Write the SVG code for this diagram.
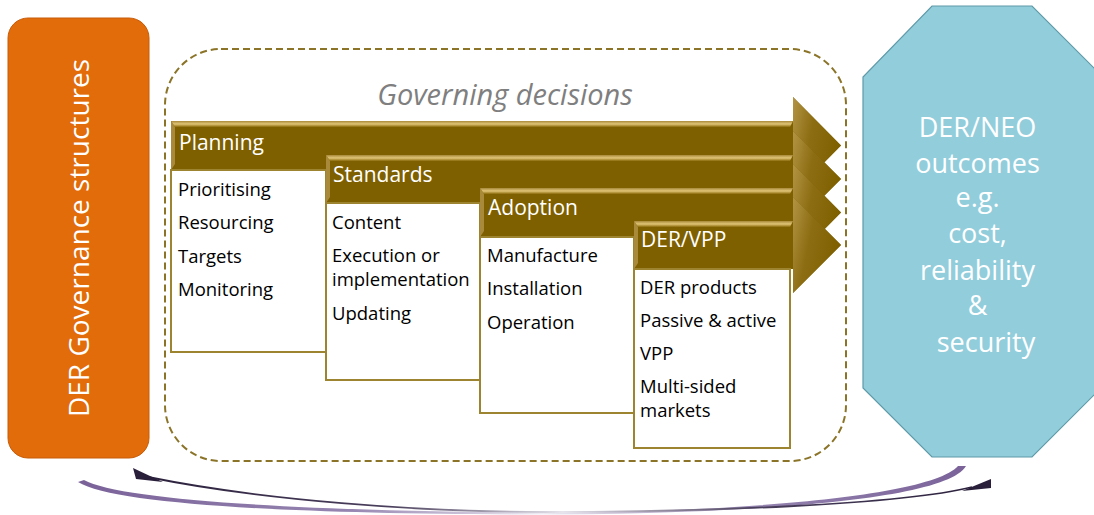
<svg xmlns="http://www.w3.org/2000/svg" width="1094" height="515" viewBox="0 0 1094 515">
  <style>
    .side { font-family: "Open Sans", "Liberation Sans", sans-serif; font-size: 28px; fill: #ffffff; }
    .out { font-family: "Open Sans", "Liberation Sans", sans-serif; font-size: 27px; fill: #ffffff; }
    .title { font-family: "Open Sans", "Liberation Sans", sans-serif; font-size: 29px; font-style: italic; fill: #7f7f7f; }
    .head { font-family: "Open Sans", "Liberation Sans", sans-serif; font-size: 21px; fill: #ffffff; }
    .item { font-family: "Open Sans", "Liberation Sans", sans-serif; font-size: 18.5px; fill: #000000; }
    .arrow { fill: #7f6000; }
    .bevel-top { fill: url(#bevelTop); }
    .bevel-left { fill: #b39548; opacity: 0.8; }
    .head-shade { fill: url(#headShade); }
    .card { fill: #ffffff; stroke: #9c8430; stroke-width: 2; }
  </style>
  <defs>
    <linearGradient id="bevelTop" x1="0" y1="0" x2="0" y2="1">
      <stop offset="0" stop-color="#a8893a"/>
      <stop offset="0.5" stop-color="#e2c678"/>
      <stop offset="1" stop-color="#8a6a0a"/>
    </linearGradient>
    <linearGradient id="headShade" x1="0" y1="0" x2="1" y2="0.4">
      <stop offset="0" stop-color="#b39444"/>
      <stop offset="0.45" stop-color="#8c6d12"/>
      <stop offset="1" stop-color="#7f6000"/>
    </linearGradient>
    <linearGradient id="fadePurple" gradientUnits="userSpaceOnUse" x1="80" y1="0" x2="970" y2="0">
      <stop offset="0" stop-color="#7a6299"/>
      <stop offset="0.3" stop-color="#9584b0"/>
      <stop offset="0.52" stop-color="#eeebf3"/>
      <stop offset="0.75" stop-color="#9584b0"/>
      <stop offset="1" stop-color="#7a6299"/>
    </linearGradient>
    <linearGradient id="fadeDark" gradientUnits="userSpaceOnUse" x1="130" y1="0" x2="995" y2="0">
      <stop offset="0" stop-color="#2a1f3b"/>
      <stop offset="0.3" stop-color="#4a3f5c"/>
      <stop offset="0.5" stop-color="#e6e3ec"/>
      <stop offset="0.72" stop-color="#4a3f5c"/>
      <stop offset="1" stop-color="#2a1f3b"/>
    </linearGradient>
  </defs>

  <rect width="1094" height="515" fill="#ffffff"/>

  <!-- left block: governance structures -->
  <g id="governance">
    <rect x="8" y="18" width="141" height="440" rx="20" ry="20" fill="#e26b0a" stroke="#c85c08" stroke-width="1"/>
    <text class="side" text-anchor="middle" transform="translate(89,238) rotate(-90)">DER Governance structures</text>
  </g>

  <!-- dashed container of the decisions -->
  <g id="decisions">
    <rect x="165" y="49" width="681" height="412" rx="56" ry="56" fill="none" stroke="#8b7428" stroke-width="2" stroke-dasharray="7 4"/>
    <text class="title" x="505" y="105" text-anchor="middle">Governing decisions</text>
  </g>

  <!-- Planning -->
  <g id="planning">
    <path class="arrow" d="M171,121 H793 V97 L841,145.5 L793,194 V170 H171 Z"/>
    <path class="head-shade" d="M793,97 L841,145.5 L793,194 Z"/>
    <path class="bevel-top" d="M171,121 H793 L790,127 H175 Z"/>
    <path class="bevel-left" d="M171,121 L175,127 V164 L171,170 Z"/>
    <text class="head" x="179" y="150">Planning</text>
    <rect class="card" x="171" y="170" width="155" height="182"/>
    <text class="item" x="178" y="196">Prioritising</text>
    <text class="item" x="178" y="229">Resourcing</text>
    <text class="item" x="178" y="263">Targets</text>
    <text class="item" x="178" y="296">Monitoring</text>
  </g>

  <!-- Standards -->
  <g id="standards">
    <path class="arrow" d="M326,155 H793 V131 L841,179 L793,227 V203 H326 Z"/>
    <path class="head-shade" d="M793,131 L841,179 L793,227 Z"/>
    <path class="bevel-top" d="M326,155 H793 L790,161 H330 Z"/>
    <path class="bevel-left" d="M326,155 L330,161 V197 L326,203 Z"/>
    <text class="head" x="333" y="182">Standards</text>
    <rect class="card" x="326" y="203" width="154" height="177"/>
    <text class="item" x="332" y="229">Content</text>
    <text class="item" x="332" y="262">Execution or</text>
    <text class="item" x="332" y="286">implementation</text>
    <text class="item" x="332" y="320">Updating</text>
  </g>

  <!-- Adoption -->
  <g id="adoption">
    <path class="arrow" d="M480,188 H793 V164 L841,212.5 L793,261 V237 H480 Z"/>
    <path class="head-shade" d="M793,164 L841,212.5 L793,261 Z"/>
    <path class="bevel-top" d="M480,188 H793 L790,194 H484 Z"/>
    <path class="bevel-left" d="M480,188 L484,194 V231 L480,237 Z"/>
    <text class="head" x="488" y="215">Adoption</text>
    <rect class="card" x="480" y="237" width="154" height="176"/>
    <text class="item" x="487" y="262">Manufacture</text>
    <text class="item" x="487" y="295">Installation</text>
    <text class="item" x="487" y="329">Operation</text>
  </g>

  <!-- DER/VPP -->
  <g id="dervpp">
    <path class="arrow" d="M634,221 H793 V197 L841,245 L793,293 V269 H634 Z"/>
    <path class="head-shade" d="M793,197 L841,245 L793,293 Z"/>
    <path class="bevel-top" d="M634,221 H793 L790,227 H638 Z"/>
    <path class="bevel-left" d="M634,221 L638,227 V263 L634,269 Z"/>
    <text class="head" x="641" y="247">DER/VPP</text>
    <rect class="card" x="634" y="269" width="156" height="179"/>
    <text class="item" x="640" y="294">DER products</text>
    <text class="item" x="640" y="327">Passive &amp; active</text>
    <text class="item" x="640" y="360">VPP</text>
    <text class="item" x="640" y="393">Multi-sided</text>
    <text class="item" x="640" y="417">markets</text>
  </g>

  <!-- right block: outcomes -->
  <g id="outcomes">
    <polygon points="932,6 1032,6 1101,75 1101,388 1032,457 932,457 863,388 863,77" fill="#92cddc" stroke="#5f9aa8" stroke-width="1.2"/>
    <text class="out" text-anchor="middle">
      <tspan x="981" y="137">DER/NEO</tspan>
      <tspan x="981" y="173">outcomes</tspan>
      <tspan x="981" y="207">e.g.</tspan>
      <tspan x="981" y="243">cost,</tspan>
      <tspan x="981" y="280">reliability</tspan>
      <tspan x="981" y="315">&amp;</tspan>
      <tspan x="986" y="352">security</tspan>
    </text>
  </g>

  <!-- feedback connectors between structures and outcomes -->
  <g id="connectors">
    <path d="M84,480 C120,500 300,511 530,512.5 C720,513 930,498 958,466 L966,466 C945,503 720,514.5 530,514.5 C300,514 115,505 78,482 Z" fill="url(#fadePurple)"/>
    <path d="M148,477 C260,500 420,512 545,512 C700,512 900,505 972,487" fill="none" stroke="url(#fadeDark)" stroke-width="1.8"/>
    <polygon points="133,468 136,479 163,482 150,476" fill="#2a1f3b"/>
    <polygon points="991,479 991,488 962,491 974,486" fill="#2a1f3b"/>
  </g>
</svg>
